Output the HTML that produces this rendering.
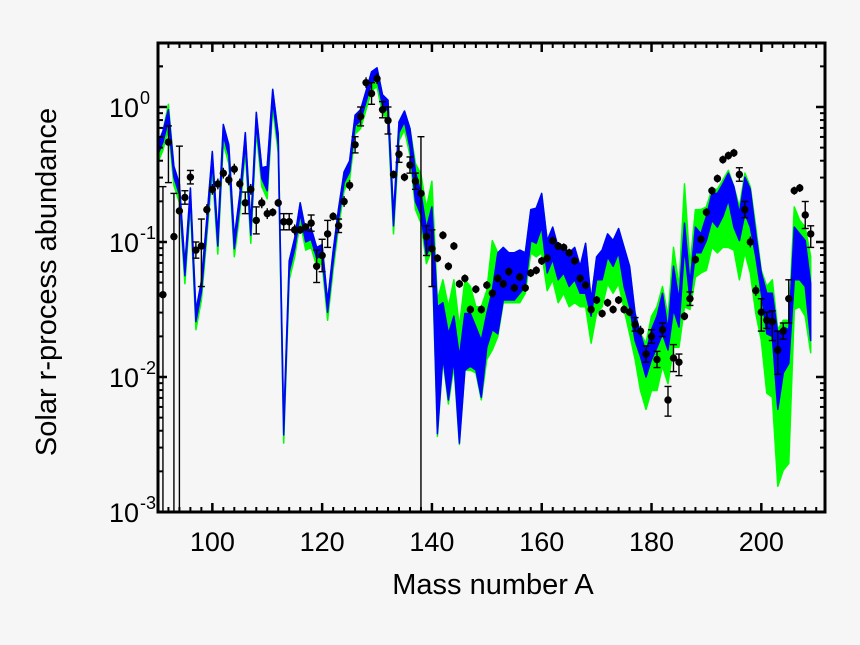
<!DOCTYPE html>
<html><head><meta charset="utf-8"><style>
html,body{margin:0;padding:0;background:#f6f6f6;}
svg{display:block;font-family:"Liberation Sans",sans-serif;}
</style></head><body>
<svg id="chart" width="860" height="645" viewBox="0 0 860 645">
<rect x="0" y="0" width="860" height="645" fill="#f6f6f6"/>
<g id="bands"></g>
<g id="points"></g>
<g id="axes"></g>
<text x="493" y="594" font-size="29" text-anchor="middle">Mass number A</text>
<text transform="translate(56,282) rotate(-90)" font-size="29" text-anchor="middle">Solar r-process abundance</text>
</svg>
<script>
// Model bands: log10 abundance for A = 90..209
const bandStartA = 90;
const blueHi = [-0.28,-0.18,-0.02,-0.44,-0.57,-1.17,-0.60,-1.51,-1.29,-0.82,
-0.33,-0.95,-0.13,-0.28,-0.97,-0.65,-0.19,-0.87,-0.04,-0.45,
-0.44,0.13,-0.20,-2.35,-1.14,-0.97,-0.71,-0.92,-0.90,-1.04,
-1.02,-1.44,-1.07,-0.75,-0.48,-0.40,-0.06,-0.02,0.12,0.26,
0.29,0.09,0.05,-0.80,-0.11,-0.03,-0.16,-0.48,-0.64,-0.90,-0.74,
-1.48,-1.45,-1.68,-1.55,-1.85,-1.53,-1.53,-1.63,-1.73,-1.53,
-1.36,-1.08,-1.04,-1.08,-1.08,-1.06,-1.08,-0.76,-0.75,-0.64,
-0.99,-0.89,-1.04,-1.04,-1.08,-1.04,-1.18,-1.01,-1.43,-1.11,
-1.06,-0.94,-0.99,-0.90,-1.04,-1.18,-1.53,-1.68,-1.82,-1.65,
-1.55,-1.38,-1.65,-1.18,-1.43,-0.86,-1.31,-0.89,-0.94,-0.81,
-0.64,-0.64,-0.57,-0.49,-0.59,-0.79,-0.52,-0.61,-0.94,-1.23,
-1.38,-1.38,-1.68,-1.63,-1.65,-0.89,-0.94,-0.99,-1.31];
const blueLo = [-0.36,-0.26,-0.10,-0.52,-0.65,-1.25,-0.68,-1.59,-1.37,-0.90,
-0.41,-1.03,-0.21,-0.36,-1.05,-0.73,-0.27,-0.95,-0.12,-0.53,
-0.62,0.05,-0.28,-2.43,-1.22,-1.05,-0.79,-1.00,-0.98,-1.12,
-1.10,-1.52,-1.15,-0.83,-0.56,-0.48,-0.14,-0.10,0.04,0.18,
0.21,0.01,-0.03,-0.88,-0.19,-0.11,-0.30,-0.70,-0.80,-1.10,-1.00,
-2.42,-1.85,-2.17,-1.87,-2.49,-1.95,-1.92,-1.95,-2.15,-1.78,
-1.65,-1.68,-1.43,-1.43,-1.43,-1.38,-1.33,-0.99,-1.01,-0.89,
-1.23,-1.13,-1.28,-1.23,-1.33,-1.28,-1.38,-1.38,-1.55,-1.28,
-1.28,-1.11,-1.18,-1.08,-1.33,-1.48,-1.73,-1.85,-2.00,-1.87,
-1.78,-1.68,-1.80,-1.50,-1.63,-1.04,-1.43,-1.08,-1.08,-0.99,
-0.84,-0.89,-0.81,-0.69,-0.89,-0.99,-0.79,-0.89,-1.11,-1.38,
-1.68,-1.70,-2.24,-1.97,-1.90,-1.28,-1.28,-1.33,-1.73];
const greenHi = [-0.28,-0.18,0.02,-0.44,-0.57,-1.17,-0.60,-1.51,-1.29,-0.82,
-0.33,-0.95,-0.13,-0.28,-0.97,-0.65,-0.19,-0.87,-0.04,-0.45,
-0.44,0.13,-0.20,-2.35,-1.14,-0.97,-0.71,-0.92,-0.90,-1.04,
-1.02,-1.44,-1.07,-0.75,-0.48,-0.40,-0.06,-0.02,0.12,0.26,
0.29,0.09,0.05,-0.80,-0.11,-0.03,-0.16,-0.42,-0.50,-0.75,-0.55,
-1.43,-1.28,-1.48,-1.28,-1.63,-1.28,-1.33,-1.48,-1.48,-1.36,
-0.99,-1.08,-1.04,-1.08,-1.08,-1.06,-1.08,-0.76,-0.75,-0.64,
-0.99,-0.89,-1.04,-1.04,-1.08,-1.04,-1.18,-1.01,-1.43,-1.11,
-1.06,-0.94,-0.99,-0.90,-1.04,-1.18,-1.53,-1.68,-1.75,-1.55,
-1.48,-1.33,-1.55,-1.04,-1.33,-0.57,-1.18,-0.76,-0.76,-0.74,
-0.61,-0.61,-0.54,-0.47,-0.59,-0.74,-0.49,-0.59,-0.89,-1.21,
-1.33,-1.28,-1.65,-1.58,-1.58,-0.74,-0.84,-0.89,-1.11];
const greenLo = [-0.42,-0.32,-0.16,-0.58,-0.71,-1.31,-0.74,-1.65,-1.43,-0.96,
-0.47,-1.09,-0.27,-0.42,-1.11,-0.79,-0.33,-1.01,-0.18,-0.59,
-0.68,-0.01,-0.34,-2.49,-1.28,-1.11,-0.85,-1.06,-1.04,-1.18,
-1.16,-1.58,-1.21,-0.89,-0.62,-0.54,-0.20,-0.16,-0.02,0.12,
0.15,-0.05,-0.09,-0.94,-0.25,-0.17,-0.36,-0.76,-0.86,-1.16,-1.06,
-2.44,-1.87,-2.20,-1.92,-2.50,-1.95,-1.95,-1.97,-2.17,-1.87,
-1.80,-1.70,-1.45,-1.45,-1.45,-1.45,-1.38,-1.08,-1.11,-1.08,
-1.36,-1.28,-1.45,-1.38,-1.48,-1.45,-1.48,-1.48,-1.75,-1.53,
-1.48,-1.31,-1.38,-1.31,-1.50,-1.68,-1.87,-2.10,-2.24,-2.10,
-2.10,-1.92,-2.05,-1.78,-1.78,-1.48,-1.50,-1.26,-1.23,-1.21,
-1.04,-1.08,-1.04,-1.04,-1.06,-1.28,-1.08,-1.23,-1.53,-1.73,
-2.12,-2.15,-2.81,-2.69,-2.64,-1.50,-1.48,-1.55,-1.82];
// Solar data points: log10 abundance for A = 91..209
const pointStartA = 91;
const solarLog = [-1.39,-0.26,-0.96,-0.77,-0.67,-0.52,-1.06,-1.03,-0.76,
-0.61,-0.57,-0.49,-0.54,-0.46,-0.57,-0.71,-0.61,-0.84,-0.71,
-0.79,-0.78,-0.71,-0.85,-0.85,-0.91,-0.91,-0.89,-0.86,-1.18,
-1.10,-0.94,-0.81,-0.88,-0.70,-0.58,-0.28,-0.07,0.18,0.10,
0.21,-0.02,-0.10,-0.50,-0.35,-0.52,-0.43,-0.55,-0.64,-0.96,
-1.05,-1.12,-0.95,-1.18,-1.03,-1.31,-1.27,-1.50,-1.35,-1.50,
-1.32,-1.38,-1.27,-1.31,-1.22,-1.34,-1.26,-1.34,-1.23,-1.21,
-1.14,-1.12,-0.99,-1.03,-1.04,-1.08,-1.14,-1.27,-1.32,-1.50,
-1.43,-1.53,-1.45,-1.50,-1.43,-1.50,-1.52,-1.61,-1.66,-1.83,
-1.70,-1.87,-1.65,-2.17,-1.86,-1.89,-1.55,-1.42,-1.13,-0.98,
-0.78,-0.62,-0.53,-0.39,-0.36,-0.34,-0.50,-0.76,-1.00,-1.36,
-1.52,-1.58,-1.59,-1.80,-1.66,-1.42,-0.62,-0.60,-0.80,-0.94];
const errUp = [0.80,0.12,0.32,0.48,0.05,0.05,0.06,0.20,0.04,
0.04,0.04,0.04,0.04,0.04,0.04,0.08,0.04,0.10,0.04,
0.04,0.03,0.03,0.06,0.06,0.04,0.03,0.03,0.06,0.12,
0.12,0.10,0.03,0.05,0.04,0.04,0.06,0.07,0.04,0.08,
0.04,0.06,0.10,0.03,0.06,0.03,0.06,0.06,0.42,0.08,
0.14,0.03,0.03,0.03,0.03,0.03,0.03,0.03,0.03,0.03,
0.03,0.03,0.03,0.03,0.03,0.03,0.03,0.03,0.03,0.03,
0.03,0.03,0.03,0.03,0.03,0.03,0.03,0.03,0.03,0.03,
0.03,0.03,0.03,0.03,0.03,0.03,0.03,0.05,0.04,0.06,
0.05,0.06,0.05,0.10,0.10,0.06,0.03,0.05,0.03,0.03,
0.03,0.03,0.03,0.03,0.03,0.03,0.05,0.06,0.04,0.04,
0.10,0.06,0.08,0.14,0.06,0.14,0.03,0.03,0.10,0.06];
const errDown = [3.00,0.30,3.00,3.00,0.05,0.05,0.06,0.30,0.04,
0.04,0.04,0.04,0.04,0.04,0.04,0.08,0.04,0.10,0.04,
0.04,0.03,0.03,0.06,0.06,0.04,0.03,0.03,0.06,0.12,
0.12,0.10,0.03,0.05,0.04,0.04,0.06,0.07,0.04,0.08,
0.04,0.06,0.10,0.03,0.06,0.03,0.06,0.06,3.00,0.14,
0.28,0.03,0.03,0.03,0.03,0.03,0.03,0.03,0.03,0.03,
0.03,0.03,0.03,0.03,0.03,0.03,0.03,0.03,0.03,0.03,
0.03,0.03,0.03,0.03,0.03,0.03,0.03,0.03,0.03,0.03,
0.03,0.03,0.03,0.03,0.03,0.03,0.03,0.05,0.04,0.06,
0.05,0.06,0.05,0.12,0.10,0.10,0.03,0.05,0.03,0.03,
0.03,0.03,0.03,0.03,0.03,0.03,0.05,0.06,0.04,0.04,
0.14,0.06,0.14,0.18,0.06,0.18,0.03,0.03,0.10,0.10];
const xTickLabels = [100,120,140,160,180,200];
const yDecades = [0,-1,-2,-3];

const NS = "http://www.w3.org/2000/svg";
const L = 158, R = 825, T = 43, B = 512;
const xMin = 90.1, xMax = 211.6, yMinLog = -3, yMaxLog = 0.474;
function xs(a){ return L + (a - xMin) / (xMax - xMin) * (R - L); }
function ys(lg){ return B - (lg - yMinLog) / (yMaxLog - yMinLog) * (B - T); }
function mk(tag, attrs, parent){ const e = document.createElementNS(NS, tag); for (const k in attrs) e.setAttribute(k, attrs[k]); parent.appendChild(e); return e; }

const defs = mk('defs', {}, document.getElementById('chart'));
const cp = mk('clipPath', {id:'plotclip'}, defs);
mk('rect', {x:L, y:T, width:R-L, height:B-T}, cp);

const bands = document.getElementById('bands');
bands.setAttribute('clip-path', 'url(#plotclip)');
function bandPath(hi, lo){
  let pts = [];
  for (let i = 0; i < hi.length; i++) pts.push(xs(bandStartA + i).toFixed(1) + ',' + ys(hi[i]).toFixed(1));
  for (let i = lo.length - 1; i >= 0; i--) pts.push(xs(bandStartA + i).toFixed(1) + ',' + ys(lo[i]).toFixed(1));
  return pts.join(' ');
}
const gp = mk('polygon', {points: bandPath(greenHi, greenLo), fill:'#00ff00', stroke:'#00ff00', 'stroke-width':'1.5', 'stroke-linejoin':'round'}, bands);


const bp = mk('polygon', {points: bandPath(blueHi, blueLo), fill:'#0000ff', stroke:'#0000ff', 'stroke-width':'1.5', 'stroke-linejoin':'round'}, bands);



const pg = document.getElementById('points');
pg.setAttribute('clip-path', 'url(#plotclip)');
for (let i = 0; i < solarLog.length; i++){
  const a = pointStartA + i, x = xs(a), y = ys(solarLog[i]);
  const y1 = ys(solarLog[i] + errUp[i]), y2 = Math.min(B, ys(solarLog[i] - errDown[i]));
  const g = mk('g', {}, pg);
  
  
  mk('line', {x1:x, x2:x, y1:y1, y2:y2, stroke:'#000', 'stroke-width':'1.4'}, g);
  if (errUp[i] >= 0.05) mk('line', {x1:x-3.5, x2:x+3.5, y1:y1, y2:y1, stroke:'#000', 'stroke-width':'1.4'}, g);
  if (errDown[i] >= 0.05 && errDown[i] < 3) mk('line', {x1:x-3.5, x2:x+3.5, y1:y2, y2:y2, stroke:'#000', 'stroke-width':'1.4'}, g);
  mk('circle', {cx:x, cy:y, r:3.7, fill:'#000'}, g);
}

const ax = document.getElementById('axes');
const frame = mk('rect', {x:L, y:T, width:R-L, height:B-T, fill:'none', stroke:'#000', 'stroke-width':'3'}, ax);


for (let a = 92; a <= 210; a += 2){
  const x = xs(a), major = (a % 20 === 0), len = major ? 9 : 5;
  mk('line', {x1:x, x2:x, y1:B, y2:B-len, stroke:'#000', 'stroke-width': major ? 2.5 : 2}, ax);
  mk('line', {x1:x, x2:x, y1:T, y2:T+len, stroke:'#000', 'stroke-width': major ? 2.5 : 2}, ax);
}
xTickLabels.forEach(v => {
  const t = mk('text', {x: xs(v), y: 551, 'font-size': 27, 'text-anchor':'middle'}, ax);
  
  
  t.textContent = v;
});
for (let d = -3; d <= 0; d++){
  for (let m = 1; m <= 9; m++){
    const lg = d + Math.log10(m);
    if (lg > yMaxLog) continue;
    const y = ys(lg), len = (m === 1) ? 9 : 5;
    mk('line', {x1:L, x2:L+len, y1:y, y2:y, stroke:'#000', 'stroke-width': m===1 ? 2.5 : 2}, ax);
    mk('line', {x1:R, x2:R-len, y1:y, y2:y, stroke:'#000', 'stroke-width': m===1 ? 2.5 : 2}, ax);
  }
}
mk('line', {x1:L, x2:L+5, y1:ys(0.301), y2:ys(0.301), stroke:'#000','stroke-width':2}, ax);
yDecades.forEach(d => {
  const y = ys(d);
  const t = mk('text', {x: 139, y: y + 10, 'font-size': 27, 'text-anchor':'end'}, ax);
  
  
  t.textContent = '10';
  const s = mk('text', {x: 140, y: y - 3, 'font-size': 18, 'text-anchor':'start'}, ax);
  
  
  s.textContent = d === 0 ? '0' : '-' + Math.abs(d);
});
</script>
</body></html>
